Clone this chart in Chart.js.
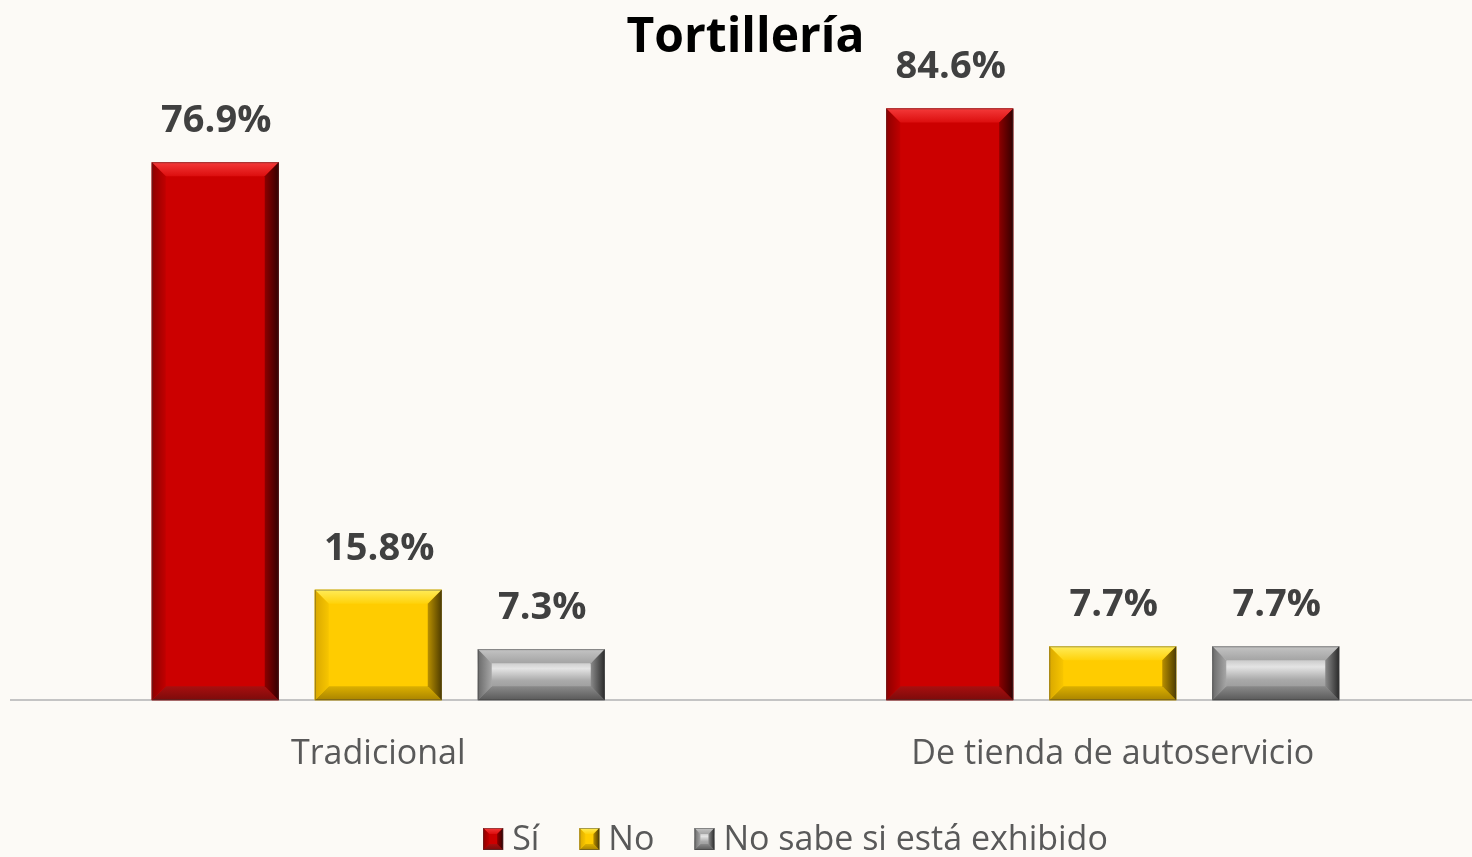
<!DOCTYPE html>
<html><head><meta charset="utf-8">
<script src="https://cdn.jsdelivr.net/npm/chart.js@4.4.1/dist/chart.umd.min.js"></script>
<style>
html,body{margin:0;padding:0;overflow:hidden;background:#fcfaf6;}
#wrap{position:relative;width:1490px;height:857px;}
</style></head><body>
<div id="wrap"><canvas id="c"></canvas></div>
<script>
const chartTitle = 'Tortillería';
const categories = ['Tradicional', 'De tienda de autoservicio'];
const seriesNames = ['Sí', 'No', 'No sabe si está exhibido'];
const siValues = [76.9, 84.6];
const noValues = [15.8, 7.7];
const noSabeValues = [7.3, 7.7];
const yMax = 90;

const bevelStyles = [
  { face: '#cc0000',
    top: [[0,'#f43a3a'],[1,'#dc0e0e']],
    bottom: [[0,'#7c0b0b'],[1,'#a80f0f']],
    left: [[0,'#8e0000'],[1,'#c00000']],
    right: [[0,'#330000'],[1,'#8c0000']] },
  { face: '#ffcc00',
    top: [[0,'#ffec5a'],[1,'#ffd20a']],
    bottom: [[0,'#a98400'],[1,'#dcb000']],
    left: [[0,'#d9a800'],[1,'#f7c500']],
    right: [[0,'#4e3c00'],[1,'#b88f00']] },
  { face: [[0,'#979797'],[0.38,'#e4e4e4'],[0.62,'#a9a9a9'],[1,'#8a8a8a']],
    top: [[0,'#c4c4c4'],[1,'#a4a4a4']],
    bottom: [[0,'#5a5a5a'],[1,'#8a8a8a']],
    left: [[0,'#6a6a6a'],[1,'#a6a6a6']],
    right: [[0,'#2a2a2a'],[1,'#8a8a8a']] }
];
const flatColors = ['#cc0000', '#ffcc00', '#a6a6a6'];

function lin(ctx, x0, y0, x1, y1, stops) {
  const g = ctx.createLinearGradient(x0, y0, x1, y1);
  stops.forEach(s => g.addColorStop(s[0], s[1]));
  return g;
}
function poly(ctx, pts, fill) {
  ctx.beginPath();
  ctx.moveTo(pts[0][0], pts[0][1]);
  for (let i = 1; i < pts.length; i++) ctx.lineTo(pts[i][0], pts[i][1]);
  ctx.closePath();
  ctx.fillStyle = fill;
  ctx.fill();
}
function drawBevel(ctx, L, T, R, B, b, s) {
  b = Math.min(b, (R - L) / 2, (B - T) / 2);
  ctx.save();
  ctx.fillStyle = Array.isArray(s.face) ? lin(ctx, 0, T, 0, B, s.face) : s.face;
  ctx.fillRect(L, T, R - L, B - T);
  poly(ctx, [[L,T],[R,T],[R-b,T+b],[L+b,T+b]], lin(ctx, 0, T, 0, T + b, s.top));
  poly(ctx, [[L,B],[R,B],[R-b,B-b],[L+b,B-b]], lin(ctx, 0, B, 0, B - b, s.bottom));
  poly(ctx, [[L,T],[L+b,T+b],[L+b,B-b],[L,B]], lin(ctx, L, 0, L + b, 0, s.left));
  poly(ctx, [[R,T],[R-b,T+b],[R-b,B-b],[R,B]], lin(ctx, R, 0, R - b, 0, s.right));
  ctx.strokeStyle = 'rgba(60,60,60,0.45)';
  ctx.lineWidth = 1;
  ctx.strokeRect(L + 0.5, T + 0.5, R - L - 1, B - T - 1);
  ctx.restore();
}

const bevelPlugin = {
  id: 'bevel',
  afterDatasetsDraw(chart) {
    const ctx = chart.ctx;
    chart.data.datasets.forEach((ds, di) => {
      const meta = chart.getDatasetMeta(di);
      meta.data.forEach(el => {
        const p = el.getProps(['x', 'y', 'base', 'width'], true);
        drawBevel(ctx, p.x - p.width / 2, Math.min(p.y, p.base), p.x + p.width / 2, Math.max(p.y, p.base), 14, bevelStyles[di]);
      });
    });
  }
};

const valueLabelPlugin = {
  id: 'valueLabels',
  afterDatasetsDraw(chart) {
    const ctx = chart.ctx;
    ctx.save();
    ctx.font = 'bold 38px "Open Sans"';
    ctx.fillStyle = '#404040';
    ctx.textAlign = 'center';
    ctx.textBaseline = 'alphabetic';
    chart.data.datasets.forEach((ds, di) => {
      const meta = chart.getDatasetMeta(di);
      meta.data.forEach((el, i) => {
        const p = el.getProps(['x', 'y'], true);
        ctx.fillText(ds.data[i].toFixed(1) + '%', p.x + 1, p.y - 30);
      });
    });
    ctx.restore();
  }
};

const customLegendPlugin = {
  id: 'customLegend',
  afterDraw(chart) {
    const ctx = chart.ctx;
    ctx.save();
    ctx.font = '34px "Open Sans"';
    const boxW = 20, boxH = 22, gap = 9, spacing = 40;
    const items = chart.data.datasets.map((ds, di) => ({ label: ds.label, di, w: ctx.measureText(ds.label).width }));
    let total = 0;
    items.forEach((it, k) => { total += boxW + gap + it.w + (k ? spacing : 0); });
    const area = chart.chartArea;
    const cx = (area.left + area.right) / 2 + 50;
    const cy = chart.height - 18;
    let x = cx - total / 2;
    ctx.textBaseline = 'middle';
    ctx.textAlign = 'left';
    items.forEach(it => {
      drawBevel(ctx, x, cy - boxH / 2, x + boxW, cy + boxH / 2, 6, bevelStyles[it.di]);
      ctx.fillStyle = '#595959';
      ctx.font = '34px "Open Sans"';
      ctx.fillText(it.label, x + boxW + gap, cy + 1);
      x += boxW + gap + it.w + spacing;
    });
    ctx.restore();
  }
};

new Chart(document.getElementById('c'), {
  type: 'bar',
  data: {
    labels: categories,
    datasets: [
      { label: seriesNames[0], data: siValues, backgroundColor: flatColors[0] },
      { label: seriesNames[1], data: noValues, backgroundColor: flatColors[1] },
      { label: seriesNames[2], data: noSabeValues, backgroundColor: flatColors[2] }
    ]
  },
  options: {
    responsive: true,
    maintainAspectRatio: false,
    animation: false,
    categoryPercentage: 0.6658,
    barPercentage: 0.779,
    layout: { padding: { left: 11, right: 10, top: 0, bottom: 48 } },
    plugins: {
      legend: { display: false },
      tooltip: { enabled: false },
      title: {
        display: true,
        text: chartTitle,
        color: '#000000',
        font: { family: 'Open Sans', size: 48, weight: 'bold' },
        padding: { top: 10, bottom: 3 }
      }
    },
    scales: {
      x: {
        grid: { display: false, drawTicks: false },
        border: { display: true, color: '#c4c4c4', width: 2 },
        ticks: { color: '#595959', font: { family: 'Open Sans', size: 34 }, padding: 34 }
      },
      y: { display: false, min: 0, max: yMax }
    }
  },
  plugins: [bevelPlugin, valueLabelPlugin, customLegendPlugin]
});
</script>
</body></html>
